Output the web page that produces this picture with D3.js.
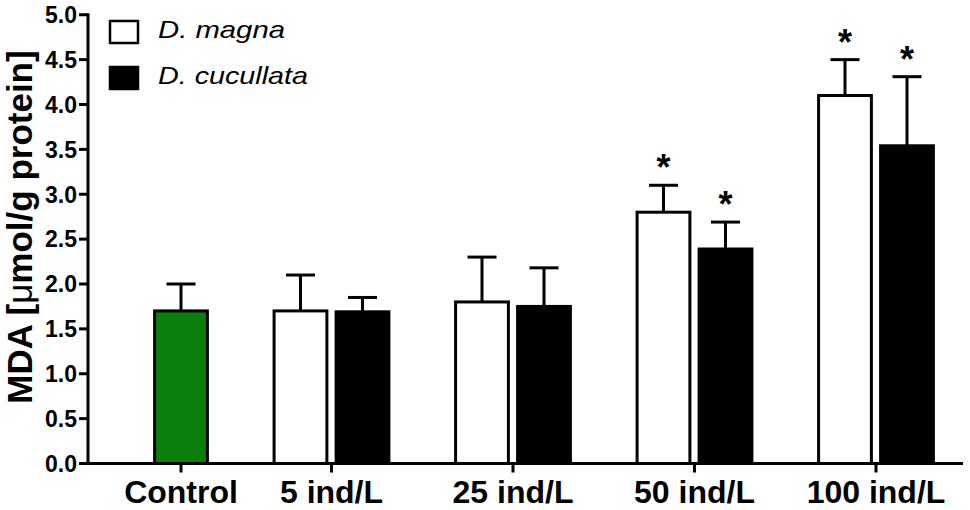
<!DOCTYPE html>
<html>
<head>
<meta charset="utf-8">
<script src="https://cdn.jsdelivr.net/npm/d3@7"></script>
<style>
html,body{margin:0;padding:0;background:#fff;}
svg{display:block;}
text{font-family:Arial,"Liberation Sans",Helvetica,sans-serif;fill:#000;}
</style>
</head>
<body>
<svg id="chart" width="970" height="510"></svg>
<script>
// ---- data ----
const categories = ["Control", "5 ind/L", "25 ind/L", "50 ind/L", "100 ind/L"];
const controlMean = [1.70];
const controlSD = [0.30];
const magnaMean = [null, 1.70, 1.80, 2.80, 4.10];
const magnaSD = [null, 0.40, 0.50, 0.30, 0.40];
const magnaSig = [false, false, false, true, true];
const cucullataMean = [null, 1.69, 1.75, 2.39, 3.54];
const cucullataSD = [null, 0.16, 0.43, 0.30, 0.77];
const cucullataSig = [false, false, false, true, true];
const seriesNames = ["D. magna", "D. cucullata"];
const yTicks = [0.0, 0.5, 1.0, 1.5, 2.0, 2.5, 3.0, 3.5, 4.0, 4.5, 5.0];
const yLabel = ["MDA [", "\u03bc", "mol/g protein]"];

// ---- layout ----
const svg = d3.select("#chart");
const y = d3.scaleLinear().domain([0, 5]).range([463.5, 14.75]);
const axisX0 = 88, axisX1 = 963;

// build categorical slot layout (each bar = 1 unit, gaps between categories)
const gapUnits = 0.927;
const barsPerCat = categories.map((c, i) => i === 0 ? 1 : 2);
const catStart = [];
let acc = 0;
barsPerCat.forEach((n, i) => { catStart.push(acc); acc += n + (i < barsPerCat.length - 1 ? gapUnits : 0); });
const totalUnits = acc;
const xu = d3.scaleLinear().domain([0, totalUnits]).range([150, 938]);
const unitPx = xu(1) - xu(0);
const barFrac = 0.9;
const sw = 3;

// build bar list
const bars = [];
bars.push({cat: 0, slot: 0, mean: controlMean[0], sd: controlSD[0], fill: "#0a7d0a", sig: false});
for (let i = 1; i < categories.length; i++) {
  bars.push({cat: i, slot: 0, mean: magnaMean[i], sd: magnaSD[i], fill: "#ffffff", sig: magnaSig[i]});
  bars.push({cat: i, slot: 1, mean: cucullataMean[i], sd: cucullataSD[i], fill: "#000000", sig: cucullataSig[i]});
}
const barCenter = d => xu(catStart[d.cat] + d.slot + 0.5);
const catCenter = i => xu(catStart[i] + barsPerCat[i] / 2);

// bars
const bw = unitPx * barFrac;
svg.append("g").selectAll("rect").data(bars).join("rect")
  .attr("x", d => barCenter(d) - bw / 2 + sw / 2)
  .attr("width", bw - sw)
  .attr("y", d => y(d.mean))
  .attr("height", d => y(0) - y(d.mean))
  .attr("fill", d => d.fill)
  .attr("stroke", "#000")
  .attr("stroke-width", sw);

// error bars (upper only)
const capW = 29;
const eb = svg.append("g").attr("stroke", "#000").attr("stroke-width", sw);
eb.selectAll("line.v").data(bars).join("line").attr("class", "v")
  .attr("x1", barCenter).attr("x2", barCenter)
  .attr("y1", d => y(d.mean)).attr("y2", d => y(d.mean + d.sd));
eb.selectAll("line.c").data(bars).join("line").attr("class", "c")
  .attr("x1", d => barCenter(d) - capW / 2).attr("x2", d => barCenter(d) + capW / 2)
  .attr("y1", d => y(d.mean + d.sd)).attr("y2", d => y(d.mean + d.sd));

// asterisks
svg.append("g").selectAll("text").data(bars.filter(d => d.sig)).join("text")
  .attr("x", barCenter)
  .attr("y", d => y(d.mean + d.sd) - 5)
  .attr("text-anchor", "middle")
  .style("font-size", "36px")
  .style("font-weight", "bold")
  .text("*");

// y axis
const yAxis = svg.append("g");
yAxis.append("line").attr("x1", axisX0).attr("x2", axisX0)
  .attr("y1", y(0) + 1.5).attr("y2", y(5) - 1.5)
  .attr("stroke", "#000").attr("stroke-width", sw);
yAxis.selectAll("line.t").data(yTicks).join("line").attr("class", "t")
  .attr("x1", axisX0 - 9).attr("x2", axisX0)
  .attr("y1", d => y(d)).attr("y2", d => y(d))
  .attr("stroke", "#000").attr("stroke-width", sw);
yAxis.selectAll("text").data(yTicks).join("text")
  .attr("x", axisX0 - 11)
  .attr("y", d => y(d))
  .attr("dy", "0.36em")
  .attr("text-anchor", "end")
  .style("font-size", "23px")
  .style("font-weight", "bold")
  .text(d => d.toFixed(1));

// x axis
const xAxis = svg.append("g");
xAxis.append("line").attr("x1", axisX0 - 1.5).attr("x2", axisX1)
  .attr("y1", y(0)).attr("y2", y(0))
  .attr("stroke", "#000").attr("stroke-width", sw);
xAxis.selectAll("line.t").data(categories).join("line").attr("class", "t")
  .attr("x1", (d, i) => catCenter(i)).attr("x2", (d, i) => catCenter(i))
  .attr("y1", y(0)).attr("y2", y(0) + 9)
  .attr("stroke", "#000").attr("stroke-width", sw);
xAxis.selectAll("text").data(categories).join("text")
  .attr("x", (d, i) => catCenter(i))
  .attr("y", 503)
  .attr("text-anchor", "middle")
  .style("font-size", "32px")
  .style("font-weight", "bold")
  .text(d => d);

// y label
const yl = svg.append("text")
  .attr("transform", "translate(32," + 227 + ") rotate(-90)")
  .attr("text-anchor", "middle")
  .style("font-size", "35px")
  .style("font-weight", "bold");
yl.selectAll("tspan").data(yLabel).join("tspan")
  .style("font-weight", (d, i) => i === 1 ? "normal" : "bold")
  .text(d => d);

// legend
const legend = svg.append("g");
const legFills = ["#ffffff", "#000000"];
const legBase = [38, 84];
const legLen = [127, 150];
legend.selectAll("rect").data(seriesNames).join("rect")
  .attr("x", 110).attr("y", (d, i) => legBase[i] - 17)
  .attr("width", 28).attr("height", 22)
  .attr("fill", (d, i) => legFills[i])
  .attr("stroke", "#000").attr("stroke-width", 2.5);
legend.selectAll("text").data(seriesNames).join("text")
  .attr("x", 158).attr("y", (d, i) => legBase[i])
  .attr("textLength", (d, i) => legLen[i])
  .attr("lengthAdjust", "spacingAndGlyphs")
  .style("font-size", "24px")
  .style("font-style", "italic")
  .text(d => d);
</script>
</body>
</html>
